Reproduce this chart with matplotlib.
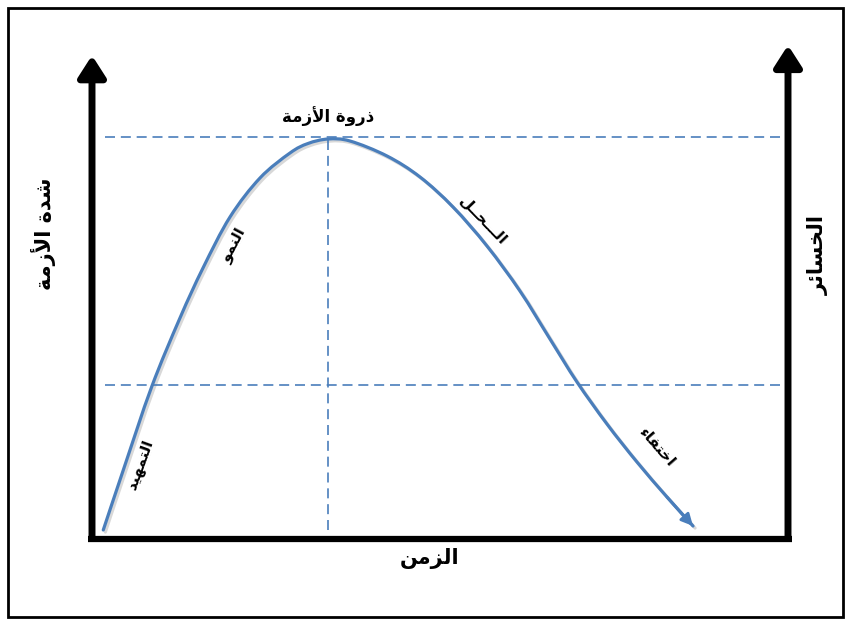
import matplotlib
matplotlib.use("Agg")
import matplotlib.pyplot as plt
import matplotlib.patheffects as pe
from matplotlib.patches import Rectangle, PathPatch
from matplotlib.path import Path
import numpy as np

# دورة حياة الأزمة: الزمن مقابل شدة الأزمة
time_pts = [1.62, 4.50, 8.58, 12.64, 15.95, 19.83, 24.14, 28.45, 31.03, 33.91,
            37.07, 42.39, 47.13, 51.87, 56.75, 61.49, 65.80, 69.68, 73.99,
            78.30, 82.61, 86.35]
severity_pts = [1.44, 13.76, 30.86, 44.97, 55.24, 65.71, 73.72, 78.85, 80.80,
                81.72, 81.31, 78.23, 73.92, 67.76, 59.75, 50.51, 40.66, 31.83,
                23.20, 15.40, 8.21, 2.26]
threshold_level = 31.2

peak_label = "ذروة الأزمة"
x_label = "الزمن"
y_label_left = "شدة الأزمة"
y_label_right = "الخسائر"
stage_labels = ["التمهيد", "النمو", "الـــحــل", "اختفاء"]
stage_pos = [(6.9, 14.8), (20.4, 60.0), (56.2, 65.1), (81.2, 18.5)]
stage_rot = [70, 62, -46, -49]

# ---- تشكيل الحروف العربية (أشكال العرض) لأن matplotlib لا يشكّلها ----
FORMS = {  # isolated, final, initial, medial
    "ا": (0xFE8D, 0xFE8E, None, None), "أ": (0xFE83, 0xFE84, None, None),
    "د": (0xFEA9, 0xFEAA, None, None), "ذ": (0xFEAB, 0xFEAC, None, None),
    "ر": (0xFEAD, 0xFEAE, None, None), "ز": (0xFEAF, 0xFEB0, None, None),
    "و": (0xFEED, 0xFEEE, None, None), "ة": (0xFE93, 0xFE94, None, None),
    "ت": (0xFE95, 0xFE96, 0xFE97, 0xFE98), "ح": (0xFEA1, 0xFEA2, 0xFEA3, 0xFEA4),
    "خ": (0xFEA5, 0xFEA6, 0xFEA7, 0xFEA8), "س": (0xFEB1, 0xFEB2, 0xFEB3, 0xFEB4),
    "ش": (0xFEB5, 0xFEB6, 0xFEB7, 0xFEB8), "ف": (0xFED1, 0xFED2, 0xFED3, 0xFED4),
    "ل": (0xFEDD, 0xFEDE, 0xFEDF, 0xFEE0), "م": (0xFEE1, 0xFEE2, 0xFEE3, 0xFEE4),
    "ن": (0xFEE5, 0xFEE6, 0xFEE7, 0xFEE8), "ه": (0xFEE9, 0xFEEA, 0xFEEB, 0xFEEC),
    "ي": (0xFEF1, 0xFEF2, 0xFEF3, 0xFEF4), "ئ": (0xFE89, 0xFE8A, 0xFE8B, 0xFE8C),
    "ـ": (0x0640, 0x0640, 0x0640, 0x0640),
}
LAM_ALEF = {"ا": (0xFEFB, 0xFEFC), "أ": (0xFEF7, 0xFEF8)}


def dual(c):
    return c in FORMS and FORMS[c][2] is not None


def shape(text):
    out = []
    i = 0
    while i < len(text):
        c = text[i]
        prev = text[i - 1] if i > 0 else " "
        nxt = text[i + 1] if i + 1 < len(text) else " "
        if c not in FORMS:
            out.append(c)
            i += 1
            continue
        joins_prev = dual(prev)
        if c == "ل" and nxt in LAM_ALEF:
            out.append(chr(LAM_ALEF[nxt][1 if joins_prev else 0]))
            i += 2
            continue
        joins_next = dual(c) and nxt in FORMS
        iso, fin, ini, med = FORMS[c]
        if joins_prev and joins_next:
            g = med
        elif joins_prev:
            g = fin
        elif joins_next:
            g = ini
        else:
            g = iso
        out.append(chr(g))
        i += 1
    return "".join(reversed(out))


def smooth_path(xs, ys):
    # منحنى بيزييه يمر بكل النقاط (Catmull-Rom)
    p = np.column_stack([xs, ys])
    q = np.vstack([p[0], p, p[-1]])
    verts = [p[0]]
    codes = [Path.MOVETO]
    for k in range(1, len(q) - 2):
        c1 = q[k] + (q[k + 1] - q[k - 1]) / 6
        c2 = q[k + 1] - (q[k + 2] - q[k]) / 6
        verts += [c1, c2, q[k + 1]]
        codes += [Path.CURVE4] * 3
    return Path(verts, codes)


plt.rcParams["font.family"] = ["DejaVu Sans"]

fig = plt.figure(figsize=(8.51, 6.25), dpi=100)
ax = fig.add_axes([92 / 851, 88 / 625, 696 / 851, 487 / 625])
ax.set_xlim(0, 100)
ax.set_ylim(0, 100)
ax.axis("off")

blue = "#4a7ebb"
t = np.array(time_pts)
s = np.array(severity_pts)
i_peak = int(np.argmax(s))
peak_t, peak_s = t[i_peak], s[i_peak]

# خطوط مرجعية متقطعة
dash = (0, (6, 3.5))
ax.plot([1.9, 98.9], [peak_s + 0.4, peak_s + 0.4], color=blue, lw=1.2, ls=dash)
ax.plot([1.9, 99.5], [threshold_level, threshold_level], color=blue, lw=1.2, ls=dash)
ax.plot([peak_t, peak_t], [1.4, peak_s], color=blue, lw=1.2, ls=dash)

# المنحنى مع ظل خفيف وسهم في النهاية
shadow = [pe.SimpleLineShadow(offset=(1.5, -1.5), shadow_color="gray", alpha=0.3),
          pe.Normal()]
ax.add_patch(PathPatch(smooth_path(t, s), fill=False, edgecolor=blue, lw=2.3,
                       capstyle="round", joinstyle="round", path_effects=shadow))
ax.annotate("", xy=(t[-1], s[-1]), xytext=(t[-2], s[-2]),
            arrowprops=dict(arrowstyle="-|>,head_length=0.5,head_width=0.25",
                            color=blue, lw=2.0, mutation_scale=14,
                            shrinkA=0, shrinkB=0))

# المحاور السوداء السميكة
ax.plot([-0.6, 100.6], [-0.4, -0.4], color="black", lw=4.5,
        solid_capstyle="butt", clip_on=False)
for xa, top in [(0, 98.9), (100, 101.0)]:
    ax.annotate("", xy=(xa, top), xytext=(xa, 0.2),
                arrowprops=dict(arrowstyle="-|>,head_length=0.5,head_width=0.32",
                                color="black", lw=5, mutation_scale=26,
                                shrinkA=0, shrinkB=0, capstyle="butt"),
                annotation_clip=False)

# النصوص
ax.text(peak_t, 86.2, shape(peak_label), ha="center", va="center",
        fontsize=12, fontweight="bold")
ax.text(48.5, -4.5, shape(x_label), ha="center", va="center",
        fontsize=15, fontweight="bold", clip_on=False)
ax.text(-7.0, 62.3, shape(y_label_left), ha="center", va="center",
        rotation=90, fontsize=15, fontweight="bold", clip_on=False)
ax.text(104.3, 57.9, shape(y_label_right), ha="center", va="center",
        rotation=90, fontsize=15, fontweight="bold", clip_on=False)
for lab, (x, y), r in zip(stage_labels, stage_pos, stage_rot):
    ax.text(x, y, shape(lab), ha="center", va="center", rotation=r,
            rotation_mode="anchor", fontsize=11, fontweight="bold")

# الإطار الخارجي
fig.patches.append(Rectangle((8 / 851, 8 / 625), 835 / 851, 609 / 625,
                             transform=fig.transFigure, fill=False,
                             edgecolor="black", lw=2))

fig.savefig("out.png", dpi=100, facecolor="white")
